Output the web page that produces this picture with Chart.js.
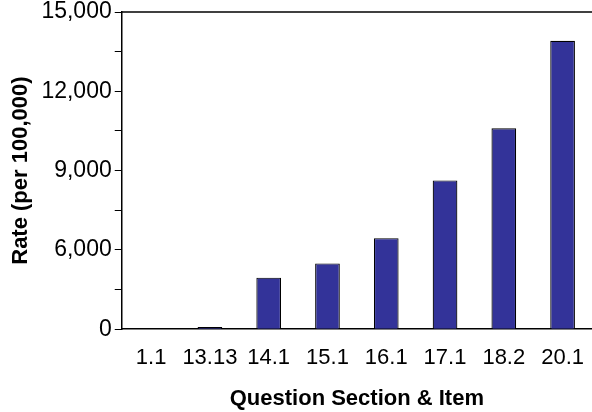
<!DOCTYPE html>
<html lang="en">
<head>
    <meta charset="UTF-8">
    <script src="https://cdn.jsdelivr.net/npm/chart.js"></script>
    <title>Rate by question</title>
    <style>
      body { margin: 0; background: #fff; }
      #box { width: 592px; height: 412px; }
    </style>
</head>
<body>
  <div id="box">
    <canvas id="grafico"></canvas>
  </div>
<script>
  // categorias e valores (em unidades do eixo)
  const categorias = ["1.1", "13.13", "14.1", "15.1", "16.1", "17.1", "18.2", "20.1"];
  const valores = [0, 80, 1950, 2490, 3445, 5630, 7600, 10910];
  // rótulos do eixo y como aparecem na figura (um a cada 3000 unidades)
  const rotulosY = ["0", "6,000", "9,000", "12,000", "15,000"];

  const fonte = "'Liberation Sans', Arial, Helvetica, sans-serif";

  // linha no topo da area do grafico
  const bordaTopo = {
    id: "bordaTopo",
    afterDraw(chart) {
      const ctx = chart.ctx;
      const a = chart.chartArea;
      ctx.save();
      ctx.strokeStyle = "#000";
      ctx.lineWidth = 1.5;
      ctx.beginPath();
      ctx.moveTo(a.left, a.top);
      ctx.lineTo(chart.width, a.top);
      ctx.stroke();
      ctx.restore();
    }
  };

  const config = {
    type: "bar",
    data: {
      labels: categorias,
      datasets: [{
        data: valores,
        backgroundColor: "#333399",
        borderColor: "#000",
        borderWidth: 1.2,
        barPercentage: 0.42,
        categoryPercentage: 1
      }]
    },
    options: {
      responsive: true,
      maintainAspectRatio: false,
      animation: false,
      layout: { padding: { top: 12, right: 0, left: 4, bottom: 0 } },
      plugins: { legend: { display: false }, tooltip: { enabled: false } },
      scales: {
        x: {
          grid: { display: false },
          border: { color: "#000", width: 1.5 },
          ticks: { color: "#000", font: { family: fonte, size: 22 }, padding: 8, maxRotation: 0, autoSkip: false },
          title: { display: true, text: "Question Section & Item", color: "#000",
                   font: { family: fonte, size: 22, weight: "bold" }, padding: { top: 6, bottom: 0 } }
        },
        y: {
          min: 0,
          max: 12000,
          grid: { drawOnChartArea: false, tickLength: 7, color: "#000", lineWidth: 1 },
          border: { color: "#000", width: 1.5 },
          ticks: {
            stepSize: 1500,
            color: "#000",
            padding: 3,
            font: { family: fonte, size: 23, lineHeight: 0.7 },
            callback: function (v, i) {
              return i % 2 === 0 ? rotulosY[i / 2] : "";
            }
          },
          title: { display: true, text: "Rate (per 100,000)", color: "#000",
                   font: { family: fonte, size: 22, weight: "bold" }, padding: { bottom: 4 } }
        }
      }
    },
    plugins: [bordaTopo]
  };

  new Chart(document.getElementById("grafico"), config);
</script>
</body>
</html>
